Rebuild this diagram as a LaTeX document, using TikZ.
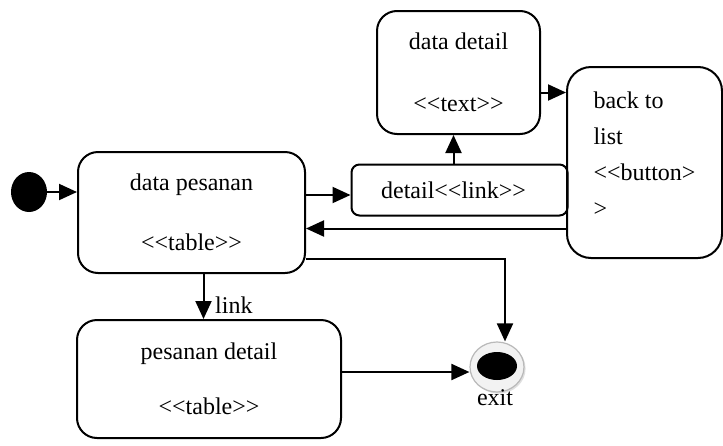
\documentclass[tikz,border=0pt]{standalone}
\usepackage{fontspec}
\setmainfont{Liberation Serif}
\usetikzlibrary{arrows.meta,shapes.geometric,shadows}

\begin{document}
\begin{tikzpicture}[
        x=0.5pt, y=-0.5pt,
        font=\fontsize{12}{18}\selectfont,
        state/.style={rectangle, draw, line width=1pt, rounded corners=10pt, align=center, inner sep=0pt},
        arrow/.style={-{Triangle[length=9pt,width=8pt]}, line width=1pt},
        dot/.style={ellipse, fill=black, inner sep=0pt}
    ]
        \useasboundingbox (0,0) rectangle (723,445);

        \node[dot, minimum width=18pt, minimum height=20pt] (start) at (29,192) {};
        \node[state, minimum width=113.5pt, minimum height=60.5pt] (pesanan) at (191.5,212.5) {data pesanan\\[12pt]<{}<table>{}>};
        \node[state, rounded corners=4pt, minimum width=108pt, minimum height=25.5pt] (detaillink) at (459.5,190) {detail<{}<link>{}>\hspace{6pt}};
        \node[state, minimum width=81.5pt, minimum height=61.5pt] (datadetail) at (458.5,72.5) {data detail\\[13pt]<{}<text>{}>};
        \node[state, align=left, rounded corners=12pt, minimum width=77.5pt, minimum height=95.5pt] (back) at (644.5,162.5) {back to\\list\\<{}<button>\\>\\[-10pt]\mbox{}};
        \node[state, minimum width=132pt, minimum height=59pt] (pesdetail) at (209,379) {pesanan detail\\[9.5pt]<{}<table>{}>};
        \node[ellipse, draw=gray!55, fill=gray!10, line width=0.6pt, minimum width=27pt, minimum height=25pt,
              drop shadow={shadow xshift=0.8pt, shadow yshift=-0.8pt, fill=gray!50}] (exit) at (497,367) {};
        \node[dot, minimum width=20pt, minimum height=14pt] (exitdot) at (497,366) {};
        \node (exitlabel) at (495,398) {exit};

        \draw[arrow] (start.east) -- (start -| pesanan.west);
        \draw[arrow] ([yshift=-2.5pt]pesanan.east |- detaillink.west) -- ([yshift=-2.5pt]detaillink.west);
        \draw[arrow] ([xshift=-3pt]detaillink.north) -- ([xshift=-3pt]detaillink.north |- datadetail.south);
        \draw[arrow] ([yshift=-10pt]datadetail.east) -- ([yshift=-10pt]datadetail.east -| back.west);
        \draw[arrow] ([yshift=-33pt]back.west) -- ([yshift=-33pt]back.west -| pesanan.east);
        \draw[arrow] ([xshift=6pt]pesanan.south) -- ([xshift=6pt]pesanan.south |- pesdetail.north)
            node[pos=0.7, anchor=west, xshift=2pt] {link};
        \draw[arrow] ([yshift=-2.5pt]pesdetail.east |- exit) -- ([yshift=-2.5pt]exit.west);
        \draw[arrow] ([yshift=-23pt]pesanan.east) -| ([xshift=4pt]exit.north);
    \end{tikzpicture}
\end{document}
